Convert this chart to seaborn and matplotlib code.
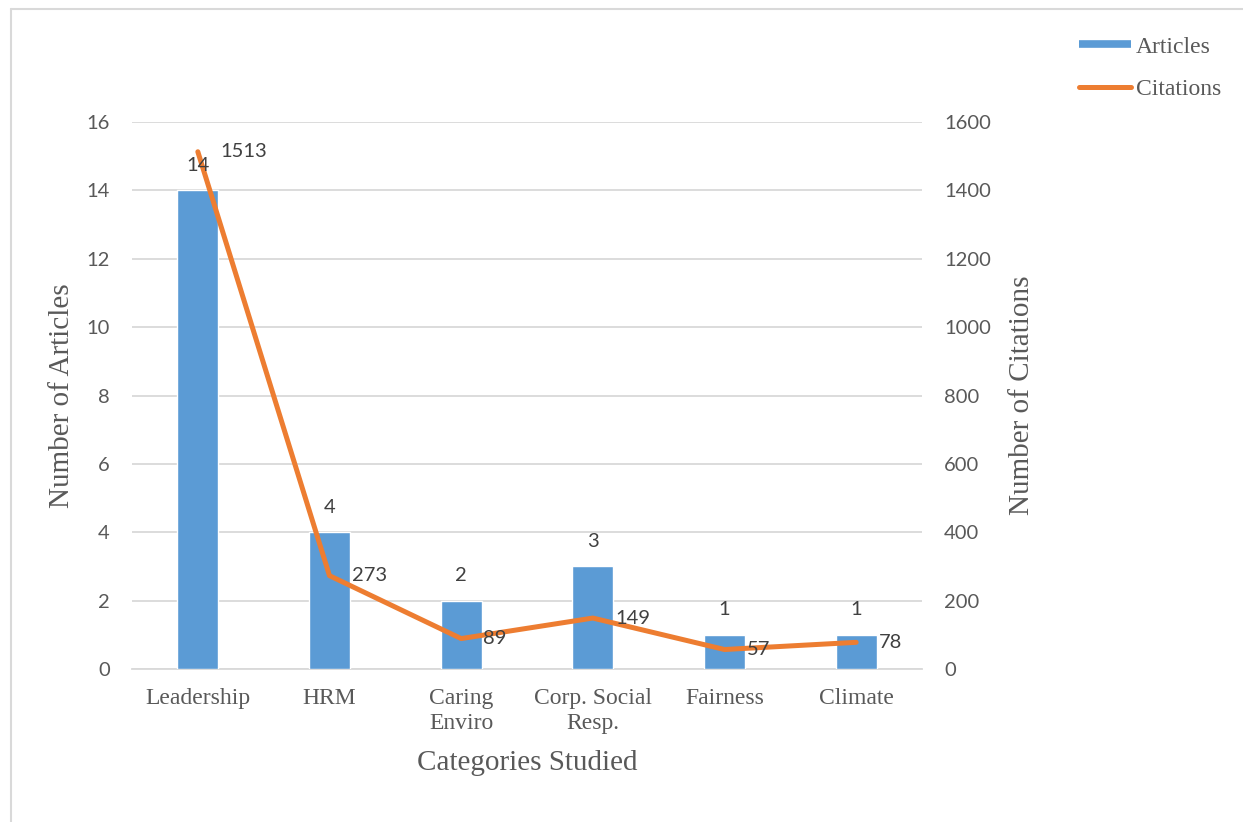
import matplotlib
matplotlib.use("Agg")
import matplotlib.pyplot as plt
import seaborn as sns
import numpy as np
import pandas as pd
from matplotlib.lines import Line2D

categories = ["Leadership", "HRM", "Caring\nEnviro", "Corp. Social\nResp.", "Fairness", "Climate"]
articles = [14, 4, 2, 3, 1, 1]
citations = [1513, 273, 89, 149, 57, 78]
left_ticks = [0, 2, 4, 6, 8, 10, 12, 14, 16]
right_ticks = [0, 200, 400, 600, 800, 1000, 1200, 1400, 1600]

BLUE = "#5B9BD5"
ORANGE = "#ED7D31"
GRID = "#D9D9D9"
TICK = "#595959"
LABEL = "#404040"
SERIF = ["Liberation Serif", "DejaVu Serif"]
SANS = ["Lato", "DejaVu Sans"]

sns.set_theme(style="white")
plt.rcParams["font.family"] = SANS

W, H = 1243, 822
fig = plt.figure(figsize=(W / 100, H / 100), dpi=100)
ax = fig.add_axes([132 / W, 1 - 669 / H, (922 - 132) / W, (669 - 122) / H])

df = pd.DataFrame({"category": categories, "articles": articles, "citations": citations})
sns.barplot(data=df, x="category", y="articles", color=BLUE, saturation=1,
            width=0.31, ax=ax, zorder=3)
ax.set_ylim(0, 16)
ax.set_yticks(left_ticks)
ax.yaxis.grid(True, color=GRID, lw=1.3, zorder=0)
ax.set_axisbelow(True)
for s in ["top", "right", "left"]:
    ax.spines[s].set_visible(False)
ax.spines["bottom"].set_color(GRID)
ax.spines["bottom"].set_linewidth(1.3)
ax.tick_params(axis="both", length=0)
ax.tick_params(axis="y", labelsize=14.5, labelcolor=TICK, pad=16)
ax.tick_params(axis="x", pad=14)
for lab in ax.get_xticklabels():
    lab.set_fontfamily(SERIF)
    lab.set_fontsize(17)
    lab.set_color(TICK)
    lab.set_linespacing(1.2)
ax.set_xlabel("Categories Studied", fontsize=21, family=SERIF, color=TICK, labelpad=12)
ax.set_ylabel("Number of Articles", fontsize=21, family=SERIF, color=TICK, labelpad=8)

ax2 = ax.twinx()
xs = np.arange(len(categories))
sns.lineplot(x=xs, y=citations, ax=ax2, color=ORANGE, lw=3.6, zorder=4,
             solid_capstyle="round", solid_joinstyle="round")
ax2.set_ylim(0, 1600)
ax2.set_yticks(right_ticks)
ax.set_xlim(-0.5, len(categories) - 0.5)
for s in ["top", "right", "left", "bottom"]:
    ax2.spines[s].set_visible(False)
ax2.tick_params(axis="y", length=0, labelsize=14.5, labelcolor=TICK, pad=16)
ax2.set_ylabel("Number of Citations", fontsize=21, family=SERIF, color=TICK, labelpad=13)
ax2.grid(False)

# data labels drawn above the line
for i, v in enumerate(articles):
    ax2.annotate(str(v), (i, v), xycoords=ax.transData, xytext=(0, 18),
                 textcoords="offset points", ha="center", va="center",
                 fontsize=14.5, color=LABEL, zorder=6)
for i, v in enumerate(citations):
    ax2.annotate(str(v), (i, v), xytext=(16, 0), textcoords="offset points",
                 ha="left", va="center", fontsize=14.5, color=LABEL, zorder=6)

handles = [Line2D([], [], color=BLUE, lw=5.5, solid_capstyle="butt"),
           Line2D([], [], color=ORANGE, lw=3.6, solid_capstyle="round")]
fig.legend(handles, ["Articles", "Citations"], loc="upper left",
           bbox_to_anchor=(1079 / W, 1 - 36 / H), frameon=False,
           prop={"family": SERIF, "size": 17}, labelcolor=TICK,
           handlelength=2.2, handletextpad=0.2, labelspacing=0.88,
           borderpad=0, borderaxespad=0)

fig.add_artist(Line2D([11 / W, 11 / W], [0, 1 - 9 / H], color=GRID, lw=1.5,
                      transform=fig.transFigure))
fig.add_artist(Line2D([11 / W, 1], [1 - 9 / H, 1 - 9 / H], color=GRID, lw=1.5,
                      transform=fig.transFigure))

fig.savefig("out.png", dpi=100, facecolor="white")
